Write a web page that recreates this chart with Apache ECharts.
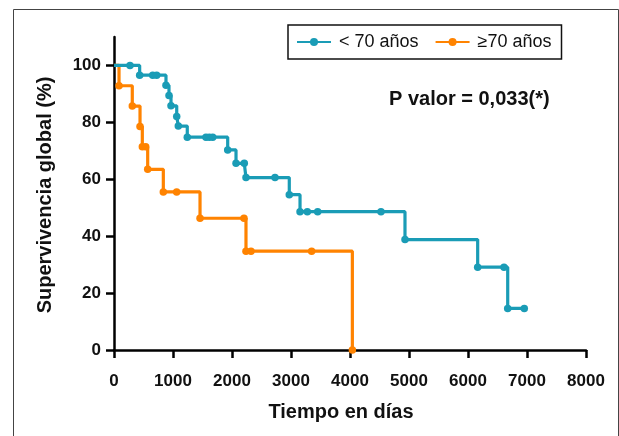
<!DOCTYPE html>
<html>
<head>
<meta charset="utf-8">
<script src="https://cdn.jsdelivr.net/npm/echarts@6/dist/echarts.min.js"></script>
<style>
  html, body { margin: 0; padding: 0; background: #fff; }
  #chart { width: 619px; height: 436px; }
</style>
</head>
<body>
<div id="chart"></div>
<script>
// Kaplan-Meier survival by age group: [days, survival %]
const seriesNames = ['< 70 años', '\u226570 años'];

const under70 = [
  [0, 100], [271, 100], [435, 96.6], [656, 96.6], [723, 96.6],
  [881, 93.0], [932, 89.4], [966, 85.8], [1063, 82.1], [1090, 78.7],
  [1242, 74.8], [1559, 74.8], [1615, 74.8], [1673, 74.8], [1927, 70.3],
  [2068, 65.6], [2208, 65.6], [2237, 60.6], [2729, 60.6], [2971, 54.6],
  [3153, 48.6], [3277, 48.6], [3452, 48.6], [4525, 48.6], [4932, 38.8],
  [6164, 29.1], [6610, 29.1], [6673, 14.6], [6954, 14.6]
];

const over70 = [
  [0, 100], [85, 92.86], [310, 85.71], [441, 78.57], [480, 71.43],
  [537, 71.43], [571, 63.49], [836, 55.56], [1062, 55.56], [1458, 46.3],
  [2203, 46.3], [2237, 34.72], [2322, 34.72], [3350, 34.72], [4040, 0]
];

const yTicks = [0, 20, 40, 60, 80, 100];
const xTicks = [0, 1000, 2000, 3000, 4000, 5000, 6000, 7000, 8000];

const colors = ['#1A9CB6', '#FF8300'];
const textFont = "'Liberation Sans', Arial, sans-serif";

// first point (time 0) carries no symbol
function toPoints(arr) {
  return arr.map((p, i) => i === 0 ? { value: p, symbol: 'none' } : { value: p });
}

const chart = echarts.init(document.getElementById('chart'), null, { renderer: 'canvas' });

chart.setOption({
  animation: false,
  backgroundColor: '#fff',
  grid: { left: 114, right: 33, top: 37, bottom: 86, containLabel: false, outerBoundsMode: 'none' },
  legend: {
    left: 288, top: 25,
    padding: [8, 10, 8, 8],
    borderColor: '#111', borderWidth: 1.5,
    itemWidth: 34, itemHeight: 10, itemGap: 16,
    textStyle: { fontFamily: textFont, fontSize: 18, color: '#111', padding: [0, 0, 0, 3] },
    data: seriesNames
  },
  xAxis: {
    type: 'value', min: 0, max: 8000, interval: 1000,
    axisLine: { lineStyle: { color: '#000', width: 2.5 } },
    axisTick: { show: true, length: 8, lineStyle: { color: '#000', width: 2.5 } },
    axisLabel: { margin: 23, fontFamily: textFont, fontWeight: 'bold', fontSize: 17, color: '#111',
                 customValues: xTicks, formatter: v => String(v) },
    splitLine: { show: false }
  },
  yAxis: {
    type: 'value', min: 0, max: 110,
    axisLine: { show: true, lineStyle: { color: '#000', width: 2.5 } },
    axisTick: { show: true, length: 8, lineStyle: { color: '#000', width: 2.5 }, customValues: yTicks },
    axisLabel: { margin: 13, fontFamily: textFont, fontWeight: 'bold', fontSize: 17, color: '#111',
                 customValues: yTicks, formatter: v => String(v) },
    splitLine: { show: false }
  },
  graphic: [
    { type: 'rect', left: 11, top: 7, shape: { width: 605, height: 440 },
      style: { fill: 'none', stroke: '#444', lineWidth: 1 }, silent: true, z: -1 },
    { type: 'text', left: 389, top: 89,
      style: { text: 'P valor = 0,033(*)', font: "bold 20px 'Liberation Sans', Arial, sans-serif", fill: '#111' } },
    { type: 'text', x: 341, y: 412,
      style: { text: 'Tiempo en días', font: "bold 20px 'Liberation Sans', Arial, sans-serif", fill: '#111',
               align: 'center', verticalAlign: 'middle' } },
    { type: 'text', x: 45, y: 195, rotation: Math.PI / 2,
      style: { text: 'Supervivencia global (%)', font: "bold 20px 'Liberation Sans', Arial, sans-serif", fill: '#111',
               align: 'center', verticalAlign: 'middle' } }
  ],
  series: [
    {
      name: seriesNames[0], type: 'line', step: 'end', z: 3,
      data: toPoints(under70),
      symbol: 'circle', symbolSize: 7.5, showAllSymbol: true,
      itemStyle: { color: colors[0] },
      lineStyle: { color: colors[0], width: 3.2 }
    },
    {
      name: seriesNames[1], type: 'line', step: 'end', z: 2,
      data: toPoints(over70),
      symbol: 'circle', symbolSize: 7.5, showAllSymbol: true,
      itemStyle: { color: colors[1] },
      lineStyle: { color: colors[1], width: 3.2 }
    }
  ]
});
</script>
</body>
</html>
